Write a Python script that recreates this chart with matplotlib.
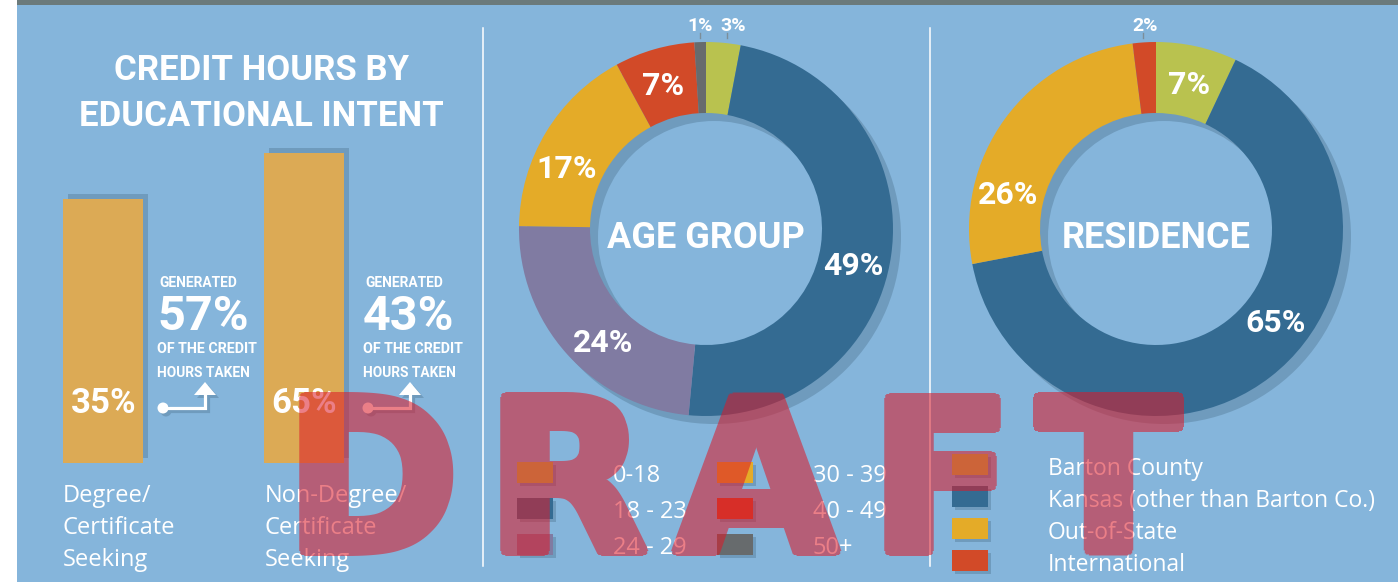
import numpy as np
import matplotlib
matplotlib.use('Agg')
import matplotlib.pyplot as plt
from matplotlib import font_manager as fm
from matplotlib.colors import to_rgb
from matplotlib.patches import Rectangle, Polygon, Circle
from matplotlib.textpath import TextPath

# ---- data ----
intent_labels = [['Degree/', 'Certificate', 'Seeking'],
                 ['Non-Degree/', 'Certificate', 'Seeking']]
intent_share = [35, 65]          # % of students (bar labels)
intent_hours = [57, 43]          # % of credit hours generated

age_groups = ['0-18', '18 - 23', '24 - 29', '30 - 39', '40 - 49', '50+']
age_pct = [3, 49, 24, 17, 7, 1]

res_groups = ['Barton County', 'Kansas (other than Barton Co.)', 'Out-of-State', 'International']
res_pct = [7, 65, 26, 2]

# ---- style ----
W, H = 1398, 582
BG = '#85b5db'
SHADOW = '#6f9bbd'
BAR = '#dcaa55'
GREEN, BLUE, PURPLE = '#b9c24f', '#346b92', '#807ba2'
YELLOW, RED, GRAY = '#e4ab28', '#d24a28', '#676b6d'
age_colors = [GREEN, BLUE, PURPLE, YELLOW, RED, GRAY]
res_colors = [GREEN, BLUE, YELLOW, RED]
WM_COLOR = '#dc1928'

HEAD = 'Roboto'
BODY = 'Open Sans'
WM_FONT = fm.FontProperties(family='DejaVu Sans', weight='bold')

fig = plt.figure(figsize=(W / 100, H / 100), dpi=100)
fig.patch.set_facecolor('white')


def frac(x0, y0, w, h):
    return [x0 / W, 1 - (y0 + h) / H, w / W, h / H]


# background axes in pixel units (y down)
ax = fig.add_axes([0, 0, 1, 1])
ax.set_xlim(0, W)
ax.set_ylim(H, 0)
ax.axis('off')
ax.add_patch(Rectangle((17, 0), W - 17, H, color=BG, lw=0))
ax.add_patch(Rectangle((17, 0), W - 17, 5, color='#6b7a7b', lw=0))
for xs in (483, 930):
    ax.plot([xs, xs], [28, 566], color='white', lw=1.1)

ax.text(261, 80, 'CREDIT HOURS BY', ha='center', va='baseline', color='white',
        fontsize=25, weight='bold', family=HEAD)
ax.text(261, 126, 'EDUCATIONAL INTENT', ha='center', va='baseline', color='white',
        fontsize=25, weight='bold', family=HEAD)

renderer = fig.canvas.get_renderer()


def fit(t, width):
    w = t.get_window_extent(renderer).width
    t.set_fontsize(t.get_fontsize() * width / w)


# ---- bars ----
BASE, YTOP = -137, 73.5
ab = fig.add_axes(frac(3, 140, 401, 323))
ab.set_xlim(-0.5, 1.5)
ab.set_ylim(BASE, YTOP)
ab.axis('off')
ypx = 323 / (YTOP - BASE)
xpx = 401 / 2.0
xs = list(range(len(intent_share)))
ab.bar([x + 5 / xpx for x in xs], [v - BASE for v in intent_share], bottom=BASE + 5 / ypx,
       width=0.4, color=SHADOW, lw=0)
ab.bar(xs, [v - BASE for v in intent_share], bottom=BASE, width=0.4, color=BAR, lw=0)
for x, v in zip(xs, intent_share):
    ab.text(x, BASE + 50 / ypx, f'{v}%', ha='center', va='baseline', color='white',
            fontsize=25, weight='bold', family=HEAD)

text_left = [157, 363]
arrow_x = [(163, 205), (368, 410)]
cat_left = [63, 265]
for i, hv in enumerate(intent_hours):
    lx = text_left[i]
    t = ax.text(lx + 2, 287, 'GENERATED', va='baseline', color='white', fontsize=11,
                weight='bold', family=HEAD)
    fit(t, 78)
    t = ax.text(lx, 330, f'{hv}%', va='baseline', color='white', fontsize=35,
                weight='bold', family=HEAD)
    t = ax.text(lx, 353, 'OF THE CREDIT', va='baseline', color='white', fontsize=11,
                weight='bold', family=HEAD)
    fit(t, 100)
    t = ax.text(lx, 377, 'HOURS TAKEN', va='baseline', color='white', fontsize=11,
                weight='bold', family=HEAD)
    fit(t, 93)
    cx, ex = arrow_x[i]
    for off, col, z in ((3, SHADOW, 2), (0, 'white', 3)):
        ax.plot([cx + off, ex + off, ex + off], [408 + off, 408 + off, 393 + off], color=col,
                lw=2.3, solid_joinstyle='miter', solid_capstyle='butt', zorder=z)
        ax.add_patch(Circle((cx + off, 408 + off), 5.5, color=col, lw=0, zorder=z))
        ax.add_patch(Polygon([(ex - 11 + off, 395 + off), (ex + 11 + off, 395 + off),
                              (ex + off, 382 + off)], closed=True, color=col, lw=0, zorder=z))
    for j, line in enumerate(intent_labels[i]):
        ax.text(cat_left[i], 502 + 32 * j, line, va='baseline', color='white',
                fontsize=17, family=BODY)

# ---- donuts ----
R, RW, HALF = 187, 71, 215


def donut(cx, cy, values, colors, label_pos, title, ticks):
    a = fig.add_axes(frac(cx - HALF, cy - HALF, 2 * HALF, 2 * HALF))
    a.pie([1], radius=R, center=(8, -8), colors=[SHADOW],
          wedgeprops=dict(width=RW, linewidth=0))
    a.pie(values, radius=R, startangle=90, counterclock=False, colors=colors,
          wedgeprops=dict(width=RW, linewidth=0))
    a.set_xlim(-HALF, HALF)
    a.set_ylim(-HALF, HALF)
    a.set_aspect('equal')
    a.axis('off')
    for v, (dx, dy, fs) in zip(values, label_pos):
        a.text(dx, dy, f'{v}%', ha='center', va='baseline', color='white',
               fontsize=fs, weight='bold', family=HEAD)
    for tx in ticks:
        a.plot([tx, tx], [191, 196], color='#7c8e99', lw=1)
    a.text(0, -19, title, ha='center', va='baseline', color='white', fontsize=26,
           weight='bold', family=HEAD)


donut(706, 229, age_pct, age_colors,
      [(27, 198, 14), (147, -46, 23), (-103, -123, 23), (-139, 51, 23),
       (-43, 134, 23), (-6, 198, 14)],
      'AGE GROUP', [-6, 21])
donut(1156, 229, res_pct, res_colors,
      [(33, 135, 23), (120, -103, 23), (-148, 25, 23), (-11, 198, 14)],
      'RESIDENCE', [-13])

# ---- legends ----
for i, (g, c) in enumerate(zip(age_groups, age_colors)):
    col, row = divmod(i, 3)
    sx, sy = 517 + 200 * col, 462 + 36 * row
    ax.add_patch(Rectangle((sx + 3, sy + 3), 36, 21, color=SHADOW, lw=0))
    ax.add_patch(Rectangle((sx, sy), 36, 21, color=c, lw=0))
    ax.text(613 + 200 * col, sy + 20, g, va='baseline', color='white', fontsize=17,
            family=BODY)

for i, (g, c) in enumerate(zip(res_groups, res_colors)):
    sy = 454 + 32 * i
    ax.add_patch(Rectangle((955, sy + 3), 36, 21, color=SHADOW, lw=0))
    ax.add_patch(Rectangle((952, sy), 36, 21, color=c, lw=0))
    ax.text(1048, sy + 21, g, va='baseline', color='white', fontsize=16.5, family=BODY)

# ---- watermark ----
# letters are drawn opaque, then fattened by a few pixels and faded,
# so the whole word keeps one even transparency
GROW = 5


def fatten(im, dpi):
    p = GROW
    a = np.pad(im[..., 3], p)
    out = a.copy()
    h, w = a.shape
    for dy in range(-p, p + 1):
        for dx in range(-p, p + 1):
            if dx * dx + dy * dy > p * p:
                continue
            sh = np.zeros_like(a)
            sh[max(dy, 0):h + min(dy, 0), max(dx, 0):w + min(dx, 0)] = \
                a[max(-dy, 0):h + min(-dy, 0), max(-dx, 0):w + min(-dx, 0)]
            out = np.maximum(out, sh)
    res = np.zeros((h, w, 4))
    res[..., :3] = to_rgb(WM_COLOR)
    res[..., 3] = out * 0.56
    return res, -p, -p


aw = fig.add_axes([0, 0, 1, 1], zorder=10)
aw.set_xlim(0, W)
aw.set_ylim(H, 0)
aw.axis('off')
# size so the capitals come out about 163 px tall after fattening
cap = TextPath((0, 0), 'D', size=100, prop=WM_FONT).get_extents().height
wm_size = 100 * (163 - 2 * GROW) / cap * 72 / 100
for ch, x in zip('DRAFT', [372, 567, 756, 941, 1109]):
    t = aw.text(x, 556 - GROW, ch, ha='center', va='baseline', color=WM_COLOR,
                fontproperties=WM_FONT, fontsize=wm_size)
    t.set_agg_filter(fatten)

fig.savefig('out.png', dpi=100, facecolor=fig.get_facecolor())
